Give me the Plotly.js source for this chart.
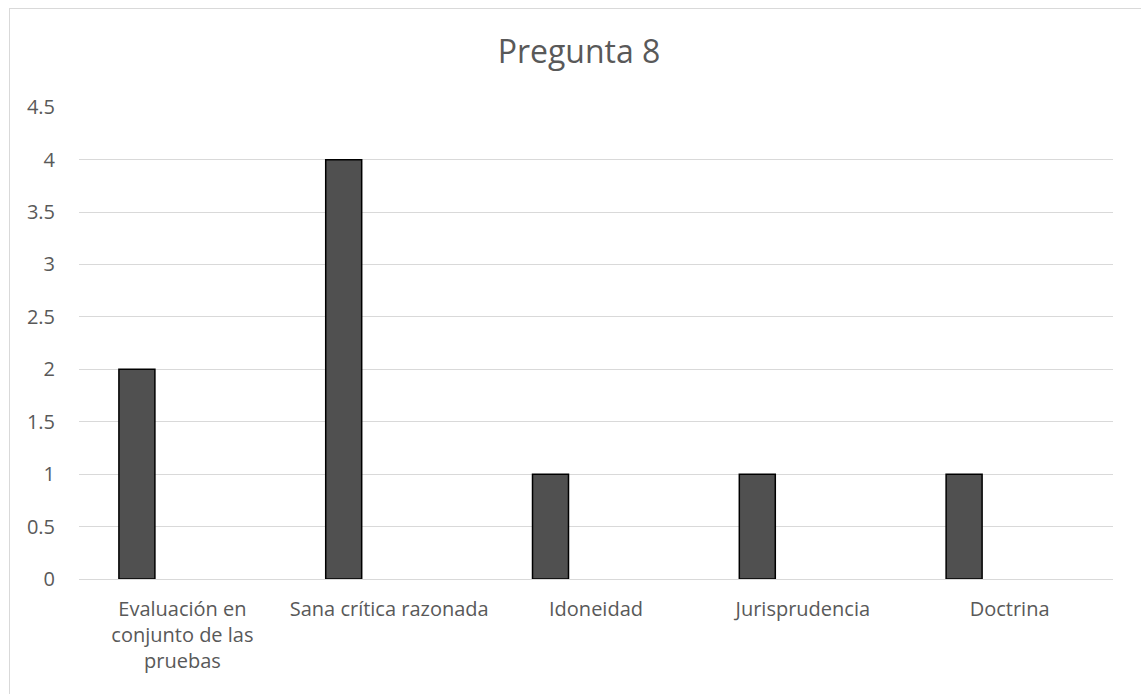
<!DOCTYPE html>
<html>
<head>
<meta charset="utf-8">
<script src="https://cdn.plot.ly/plotly-3.0.1.min.js"></script>
<style>html,body{margin:0;padding:0;background:#fff;}#chart{width:1141px;height:694px;}</style>
</head>
<body>
<div id="chart"></div>
<script>
const categories = ["Evaluación en<br>conjunto de las<br>pruebas", "Sana crítica razonada", "Idoneidad", "Jurisprudencia", "Doctrina"];
const values = [2, 4, 1, 1, 1];
const yTicks = [0, 0.5, 1, 1.5, 2, 2.5, 3, 3.5, 4, 4.5];
const yTickLabels = ["0", "0.5", "1", "1.5", "2", "2.5", "3", "3.5", "4", "4.5"];

const W = 1141, H = 694;
const L = 79, R = 28, T = 107, B = 115;
const pw = W - L - R, ph = H - T - B;
const px = v => (v - L) / pw;
const py = v => 1 - (v - T) / ph;

const trace = {
  type: 'bar',
  x: categories,
  y: values,
  width: 0.174,
  offset: -0.307,
  marker: {color: '#505050', line: {color: '#000000', width: 1.5}},
  hoverinfo: 'x+y'
};

const layout = {
  width: W, height: H,
  margin: {l: L, r: R, t: T, b: B, pad: 0},
  paper_bgcolor: '#ffffff',
  plot_bgcolor: '#ffffff',
  font: {family: 'Open Sans, sans-serif', color: '#595959', size: 20},
  title: {text: 'Pregunta 8', x: 579 / W, xanchor: 'center', xref: 'container',
          y: 1 - 52 / H, yanchor: 'middle', yref: 'container',
          font: {size: 32, color: '#595959', family: 'Open Sans, sans-serif'}},
  showlegend: false,
  bargap: 0,
  xaxis: {type: 'category', showgrid: false, zeroline: false, showline: false,
          ticks: '', ticklabelstandoff: 16, tickfont: {size: 20, color: '#595959'},
          automargin: false, fixedrange: true},
  yaxis: {range: [0, 4.502], tickvals: yTicks, ticktext: yTickLabels,
          showgrid: true, gridcolor: '#d9d9d9', gridwidth: 1,
          zeroline: true, zerolinecolor: '#d9d9d9', zerolinewidth: 1,
          showline: false, ticks: '', ticklen: 0, ticklabelstandoff: 23,
          tickfont: {size: 20, color: '#595959'},
          automargin: false, fixedrange: true},
  shapes: [
    {type: 'line', xref: 'paper', yref: 'paper', x0: px(9), x1: px(1145), y0: py(8.5), y1: py(8.5),
     line: {color: '#d9d9d9', width: 1}},
    {type: 'line', xref: 'paper', yref: 'paper', x0: px(9.5), x1: px(9.5), y0: py(8), y1: py(700),
     line: {color: '#d9d9d9', width: 1}}
  ]
};

Plotly.newPlot('chart', [trace], layout, {displayModeBar: false, staticPlot: true});
</script>
</body>
</html>
